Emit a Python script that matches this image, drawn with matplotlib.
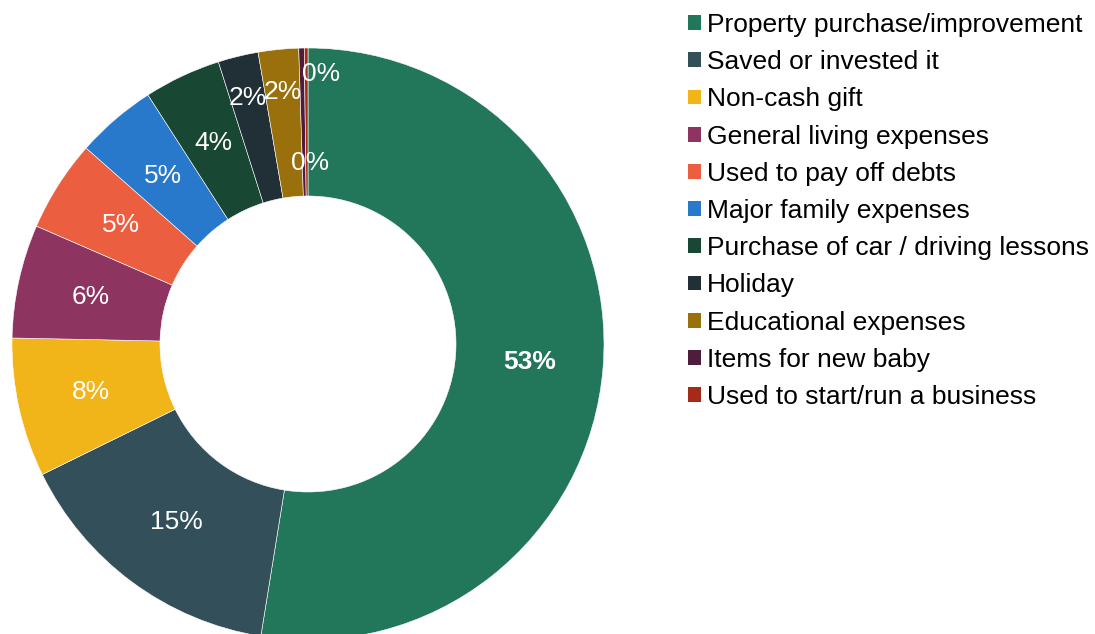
import numpy as np
import matplotlib.pyplot as plt
from matplotlib.patches import Patch

plt.rcParams['font.family'] = ['Liberation Sans', 'DejaVu Sans']

categories = ["Property purchase/improvement", "Saved or invested it", "Non-cash gift",
              "General living expenses", "Used to pay off debts", "Major family expenses",
              "Purchase of car / driving lessons", "Holiday", "Educational expenses",
              "Items for new baby", "Used to start/run a business"]
values = [52.6, 15.2, 7.6, 6.2, 5.0, 4.4, 4.2, 2.2, 2.2, 0.3, 0.2]
labels = ["53%", "15%", "8%", "6%", "5%", "5%", "4%", "2%", "2%", "0%", "0%"]
colors = ["#22765A", "#33505A", "#F1B51A", "#8E3460", "#EC5E40", "#2878CC",
          "#184733", "#212F36", "#9A700C", "#4F1D3C", "#A52A17"]

# label placement: radius in px, angle shift in degrees (clockwise)
label_r = [222, 222, 222, 222, 222, 222, 222, 253, 253, 270, 181]
label_shift = [0, 0, 0, 0, 0, 0, 0, 0, 0, 4.0, 1.0]

W, H = 1095, 634
fig = plt.figure(figsize=(W / 100, H / 100), dpi=100)
ax = fig.add_axes([0, 0, 1, 1])

cx, cy, R = 308, H - 344, 296
ax.pie(values, colors=colors, startangle=90, counterclock=False,
       center=(cx, cy), radius=R, frame=True,
       wedgeprops=dict(width=R / 2, edgecolor='white', linewidth=0.4))
ax.set_xlim(0, W)
ax.set_ylim(0, H)
ax.set_aspect('equal')
ax.axis('off')

total = sum(values)
cum = np.cumsum(values)
for i, lab in enumerate(labels):
    mid = (cum[i] - values[i] / 2) / total * 360 + label_shift[i]
    ang = np.radians(90 - mid)
    x = cx + label_r[i] * np.cos(ang)
    y = cy + label_r[i] * np.sin(ang)
    ax.text(x, y, lab, ha='center', va='center', color='white', fontsize=19,
            fontweight='bold' if i == 0 else 'normal')

handles = [Patch(facecolor=c, edgecolor='none') for c in colors]
fig.legend(handles, categories, loc='upper left', bbox_to_anchor=(688 / W, 1 - 13 / H),
           frameon=False, fontsize=19, handlelength=0.48, handleheight=0.48,
           handletextpad=0.25, labelspacing=0.5, borderaxespad=0, borderpad=0)

fig.savefig("out.png", dpi=100)
